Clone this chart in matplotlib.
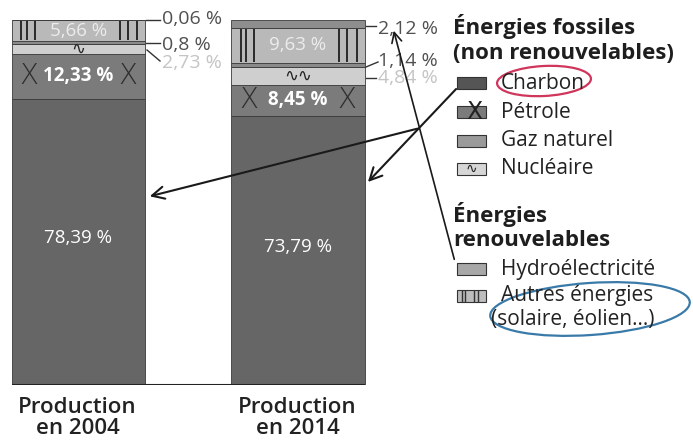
import matplotlib
matplotlib.use("Agg")
import matplotlib.pyplot as plt
from matplotlib.patches import Rectangle, Ellipse
import numpy as np

plt.rcParams["font.family"] = ["Open Sans", "DejaVu Sans"]

# --- données (empilement du bas vers le haut) ---
categories = ["Production\nen 2004", "Production\nen 2014"]
sources = ["Charbon", "Pétrole", "Nucléaire", "Gaz naturel", "Autres énergies", "Hydroélectricité"]
charbon = [78.39, 73.79]
petrole = [12.33, 8.45]
nucleaire = [2.73, 4.84]
gaz = [0.80, 1.14]
autres = [5.66, 9.63]
hydro = [0.06, 2.12]
series = [charbon, petrole, nucleaire, gaz, autres, hydro]
couleurs = ["#666666", "#7b7b7b", "#cfcfcf", "#8a8a8a", "#b9b9b9", "#8e8e8e"]

fig = plt.figure(figsize=(6.93, 4.43), dpi=100)
ax = fig.add_axes([0, 58 / 443, 380 / 693, 365 / 443])
ax.set_xlim(-78.5 / 219.5, (380 - 78.5) / 219.5)
ax.set_ylim(0, 100)
ax.axis("off")

x = np.arange(len(categories))
w = 0.606
bas = np.zeros(len(categories))
for vals, col in zip(series, couleurs):
    ax.bar(x, vals, w, bottom=bas, color=col, edgecolor="#3a3a3a", linewidth=0.6)
    bas += np.array(vals)
ax.hlines(0, x[0] - w / 2, x[-1] + w / 2, color="#222222", linewidth=1.5)

cum = np.cumsum(np.array(series), axis=0)
starts = cum - np.array(series)

for i in range(len(categories)):
    # charbon
    ax.text(x[i], starts[0][i] + charbon[i] / 2 + 1, f"{charbon[i]:.2f} %".replace(".", ","),
            ha="center", va="center", color="white", fontsize=13.5)
    # pétrole + croix
    yp = starts[1][i] + petrole[i] / 2
    ax.text(x[i], yp, f"{petrole[i]:.2f} %".replace(".", ","), ha="center", va="center",
            color="white", fontsize=13.5, fontweight="bold")
    for dx in (-0.37 * w, 0.37 * w):
        ax.text(x[i] + dx, yp, "X", ha="center", va="center", color="#2e2e2e",
                fontsize=20, family="DejaVu Sans", fontweight="light")
    # nucléaire : vague
    ax.text(x[i], starts[2][i] + nucleaire[i] / 2, "∿∿" if i else "∿", ha="center", va="center",
            color="#222222", fontsize=12, family="DejaVu Sans")
    # autres : hachures verticales
    y0, y1 = starts[4][i], cum[4][i]
    for f in (-0.43, -0.39, -0.33, 0.31, 0.37, 0.44):
        ax.vlines(x[i] + f * w, y0 + 0.3, y1 - 0.3, color="#2a2a2a", linewidth=1.4)
    ax.text(x[i], (y0 + y1) / 2, f"{autres[i]:.2f} %".replace(".", ","), ha="center", va="center",
            color="#ececec", fontsize=13.5)

# --- calque en pixels pour légendes, étiquettes et annotations ---
ov = fig.add_axes([0, 0, 1, 1], zorder=5)
ov.set_xlim(0, 693)
ov.set_ylim(443, 0)
ov.axis("off")
ov.patch.set_alpha(0)

sombre, clair = "#505050", "#c4c4c4"
# étiquettes à droite des barres
etiq = [
    (146, 20, 160, 20, 162, 19, "0,06 %", sombre),
    (146, 43, 160, 43, 162, 45, "0,8 %", sombre),
    (147, 50, 160, 61, 162, 63, "2,73 %", clair),
    (366, 26, 376, 26, 378, 29, "2,12 %", sombre),
    (366, 67, 378, 62, 378, 61, "1,14 %", sombre),
    (366, 78, 376, 78, 378, 78, "4,84 %", clair),
]
for x0, y0, x1, y1, tx, ty, s, c in etiq:
    ov.plot([x0, x1], [y0, y1], color="#333333", linewidth=1)
    ov.text(tx, ty, s, ha="left", va="center", fontsize=14, color=c)

# légende
titre = dict(fontsize=16, fontweight="bold", color="#1e1e1e", va="center")
ov.text(453, 26, "Énergies fossiles", **titre)
ov.text(453, 53, "(non renouvelables)", **titre)
ov.text(453, 214, "Énergies", **titre)
ov.text(453, 240, "renouvelables", **titre)

leg = [("Charbon", 83, "#555555"), ("Pétrole", 112, "#7b7b7b"), ("Gaz naturel", 141, "#9a9a9a"),
       ("Nucléaire", 169, "#d6d6d6"), ("Hydroélectricité", 269, "#a8a8a8"), ("Autres énergies", 296, "#bdbdbd")]
for nom, yy, col in leg:
    ov.add_patch(Rectangle((457, yy - 6), 29, 12, facecolor=col, edgecolor="#333333", linewidth=0.8))
    ov.text(501, yy, nom, fontsize=15, color="#222222", va="center")
ov.text(474, 112, "X", ha="center", va="center", fontsize=17, color="#222222", family="DejaVu Sans")
ov.text(471, 169, "∿", ha="center", va="center", fontsize=10, color="#222222", family="DejaVu Sans")
for xx in (462, 465, 474, 478):
    ov.plot([xx, xx], [291, 301], color="#333333", linewidth=1)
ov.text(491, 320, "(solaire, éolien...)", fontsize=15, color="#222222", va="center")

# catégories
for cx, lab in zip((77.5, 297.5), categories):
    ov.text(cx, 418, lab, ha="center", va="center", fontsize=16, fontweight="semibold",
            color="#222222", linespacing=1.0)

# annotations manuscrites
ov.add_patch(Ellipse((544, 81), 94, 30, angle=-3, fill=False, edgecolor="#d0355c", linewidth=1.6))
ov.add_patch(Ellipse((590, 309), 200, 52, angle=-4, fill=False, edgecolor="#3a7aa8", linewidth=1.6))
fleche = dict(arrowstyle="->", color="#1a1a1a", linewidth=1.5, mutation_scale=22)
ov.annotate("", xy=(366, 184), xytext=(458, 87), arrowprops=fleche)
ov.annotate("", xy=(147, 197), xytext=(420, 128), arrowprops=fleche)
ov.annotate("", xy=(393, 28), xytext=(455, 262), arrowprops=dict(arrowstyle="->", color="#1a1a1a", linewidth=1.2, mutation_scale=18))

fig.savefig("out.png", dpi=100)
